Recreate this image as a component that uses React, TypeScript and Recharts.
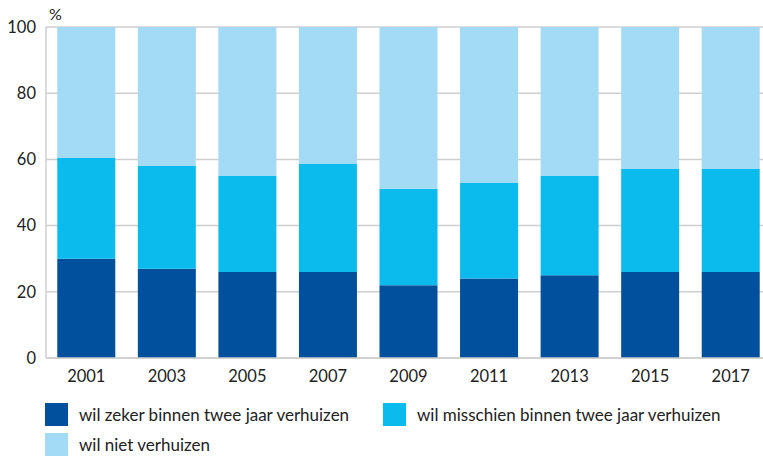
import React from 'react';
import { BarChart, Bar, XAxis, YAxis, CartesianGrid, Legend } from 'recharts';

const years = ['2001', '2003', '2005', '2007', '2009', '2011', '2013', '2015', '2017'];
const zeker = [30, 27, 26, 26, 22, 24, 25, 26, 26];
const misschien = [30.4, 31, 29, 32.6, 29.1, 28.9, 30, 31.1, 31.1];
const niet = [39.6, 42, 45, 41.4, 48.9, 47.1, 45, 42.9, 42.9];
const yTicks = [0, 20, 40, 60, 80, 100];

const seriesNames = [
  'wil zeker binnen twee jaar verhuizen',
  'wil misschien binnen twee jaar verhuizen',
  'wil niet verhuizen',
];
const colors = ['#00509E', '#0BBBEE', '#A3DAF6'];

const data = years.map((y, i) => ({ year: y, zeker: zeker[i], misschien: misschien[i], niet: niet[i] }));

const FONT = 'Lato, "Open Sans", sans-serif';

const LegendContent = () => {
  const item = (i: number, left: number, top: number) => (
    <div key={i} style={{ position: 'absolute', left, top, display: 'flex', alignItems: 'center', height: 23 }}>
      <div style={{ width: 23, height: 23, background: colors[i] }} />
      <span style={{ marginLeft: 11, fontSize: 17, color: '#222', fontFamily: FONT, whiteSpace: 'nowrap' }}>{seriesNames[i]}</span>
    </div>
  );
  return (
    <div style={{ position: 'relative', width: 700, height: 56 }}>
      {item(0, 0, 0)}
      {item(1, 338, 0)}
      {item(2, 0, 30)}
    </div>
  );
};

export default function App() {
  return (
    <div style={{ position: 'absolute', left: 0, top: 0, width: 763, height: 457, overflow: 'hidden', background: '#fff' }}>
      <BarChart
        width={771}
        height={457}
        data={data}
        margin={{ top: 27, right: 0, bottom: 69, left: 0 }}
        barCategoryGap="14%"
      >
        <CartesianGrid vertical={false} stroke="#cfcfcf" strokeWidth={1.5} />
        <XAxis
          dataKey="year"
          tickLine={false}
          axisLine={{ stroke: '#cfcfcf', strokeWidth: 1.5 }}
          tick={{ fill: '#222', fontSize: 16.5, fontFamily: FONT }}
          tickMargin={6}
          height={30}
        />
        <YAxis
          domain={[0, 100]}
          ticks={yTicks}
          width={46}
          tickLine={false}
          axisLine={{ stroke: '#cfcfcf', strokeWidth: 1.5 }}
          tick={{ fill: '#222', fontSize: 16.5, fontFamily: FONT }}
          tickMargin={4}
          label={{
            content: (props: any) => {
              const vb = props.viewBox || { x: 0, y: 27, width: 46 };
              return (
                <text x={vb.x + vb.width + 3} y={vb.y - 7} fill="#222" fontSize={16} fontFamily={FONT}>
                  %
                </text>
              );
            },
          }}
        />
        <Legend
          layout="horizontal"
          verticalAlign="middle"
          align="center"
          wrapperStyle={{ position: 'absolute', left: 45, top: 403, width: 700 }}
          content={<LegendContent />}
        />
        <Bar dataKey="zeker" stackId="a" fill={colors[0]} isAnimationActive={false} />
        <Bar dataKey="misschien" stackId="a" fill={colors[1]} isAnimationActive={false} />
        <Bar dataKey="niet" stackId="a" fill={colors[2]} isAnimationActive={false} />
      </BarChart>
    </div>
  );
}
